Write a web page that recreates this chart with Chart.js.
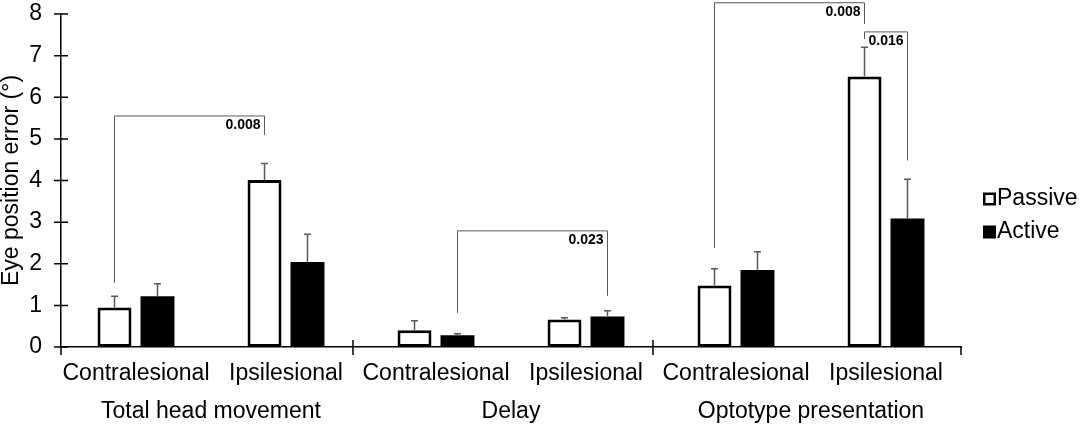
<!DOCTYPE html>
<html>
<head>
<meta charset="utf-8">
<script src="https://cdn.jsdelivr.net/npm/chart.js@4"></script>
<style>
  html, body { margin: 0; padding: 0; background: #fff; }
</style>
</head>
<body>
<canvas id="myChart" width="1084" height="429"></canvas>
<script>
// Données
const categories = ['Contralesional', 'Ipsilesional', 'Contralesional', 'Ipsilesional', 'Contralesional', 'Ipsilesional'];
const groups = ['Total head movement', 'Delay', 'Optotype presentation'];
const passive = [0.95, 4.01, 0.40, 0.66, 1.48, 6.50];
const passiveErr = [0.27, 0.40, 0.23, 0.04, 0.40, 0.70];
const active = [1.22, 2.04, 0.28, 0.73, 1.85, 3.09];
const activeErr = [0.30, 0.67, 0.04, 0.14, 0.44, 0.94];
const yTicks = [0, 1, 2, 3, 4, 5, 6, 7, 8];

// Crochets de significativité : [catégorie, dataset] pour chaque branche
const brackets = [
    { label: '0.008', from: [0, 0], to: [1, 0], start: 1.54, top: 5.55, end: 5.10, side: 'right' },
    { label: '0.023', from: [2, 1], to: [3, 1], start: 0.82, top: 2.79, end: 1.23, side: 'right' },
    { label: '0.008', from: [4, 0], to: [5, 0], start: 2.38, top: 8.27, end: 7.76, side: 'right' },
    { label: '0.016', from: [5, 0], to: [5, 1], start: 7.40, top: 7.57, end: 4.48, side: 'left' },
];

const FONT = '"Liberation Sans", Arial, sans-serif';
const errors = [passiveErr, activeErr];

const extras = {
    id: 'extras',
    afterDraw(chart) {
        const ctx = chart.ctx;
        const xs = chart.scales.x;
        const ys = chart.scales.y;
        ctx.save();

        // graduations de l'axe Y (traversantes)
        ctx.strokeStyle = '#000';
        ctx.lineWidth = 1.5;
        ctx.beginPath();
        yTicks.forEach(v => {
            const y = ys.getPixelForValue(v);
            ctx.moveTo(xs.left - 7, y);
            ctx.lineTo(xs.left + 7, y);
        });
        // prolongement de l'axe Y sous l'axe X
        ctx.moveTo(xs.left, ys.bottom);
        ctx.lineTo(xs.left, ys.bottom + 8);
        // séparateurs de groupes (un peu à gauche du milieu, comme dans Excel)
        [1.5, 3.5].forEach(v => {
            const x = xs.getPixelForValue(v) - 8;
            ctx.moveTo(x, ys.bottom - 7);
            ctx.lineTo(x, ys.bottom + 8);
        });
        ctx.moveTo(xs.right, ys.bottom);
        ctx.lineTo(xs.right, ys.bottom + 8);
        ctx.stroke();

        // libellés de groupes
        ctx.fillStyle = '#000';
        ctx.font = '23px ' + FONT;
        ctx.textAlign = 'center';
        ctx.textBaseline = 'middle';
        groups.forEach((g, i) => {
            const x = (xs.getPixelForValue(2 * i) + xs.getPixelForValue(2 * i + 1)) / 2;
            ctx.fillText(g, x, 412);
        });

        // barres d'erreur
        ctx.strokeStyle = '#595959';
        ctx.lineWidth = 1.5;
        chart.data.datasets.forEach((ds, d) => {
            const meta = chart.getDatasetMeta(d);
            meta.data.forEach((bar, i) => {
                const y0 = ys.getPixelForValue(ds.data[i]);
                const y1 = ys.getPixelForValue(ds.data[i] + errors[d][i]);
                ctx.beginPath();
                ctx.moveTo(bar.x, y0);
                ctx.lineTo(bar.x, y1);
                ctx.moveTo(bar.x - 3.5, y1);
                ctx.lineTo(bar.x + 3.5, y1);
                ctx.stroke();
            });
        });

        // crochets
        ctx.strokeStyle = '#595959';
        ctx.lineWidth = 1;
        ctx.font = 'bold 14px ' + FONT;
        brackets.forEach(b => {
            const xa = chart.getDatasetMeta(b.from[1]).data[b.from[0]].x;
            const xb = chart.getDatasetMeta(b.to[1]).data[b.to[0]].x;
            const ya = ys.getPixelForValue(b.start);
            const yt = ys.getPixelForValue(b.top);
            const yb = ys.getPixelForValue(b.end);
            ctx.beginPath();
            ctx.moveTo(xa, ya);
            ctx.lineTo(xa, yt);
            ctx.lineTo(xb, yt);
            ctx.lineTo(xb, yb);
            ctx.stroke();
            if (b.side === 'right') {
                ctx.textAlign = 'right';
                ctx.fillText(b.label, xb - 4, yt + 9);
            } else {
                ctx.textAlign = 'left';
                ctx.fillText(b.label, xa + 4, yt + 9);
            }
        });

        // légende
        ctx.font = '23px ' + FONT;
        ctx.textAlign = 'left';
        chart.data.datasets.forEach((ds, d) => {
            const cy = 199 + d * 33;
            ctx.fillStyle = ds.backgroundColor;
            ctx.fillRect(983, cy - 6.5, 13, 13);
            if (ds.borderWidth) {
                ctx.strokeStyle = ds.borderColor;
                ctx.lineWidth = 2.5;
                ctx.strokeRect(984.25, cy - 5.25, 10.5, 10.5);
            }
            ctx.fillStyle = '#000';
            ctx.fillText(ds.label, 997, cy);
        });

        ctx.restore();
    }
};

const ctx = document.getElementById('myChart').getContext('2d');
new Chart(ctx, {
    type: 'bar',
    data: {
        labels: categories,
        datasets: [{
            label: 'Passive',
            data: passive,
            backgroundColor: '#ffffff',
            borderColor: '#000000',
            borderWidth: 3,
            borderSkipped: false,
        }, {
            label: 'Active',
            data: active,
            backgroundColor: '#000000',
            borderColor: '#000000',
            borderWidth: 0,
        }],
    },
    options: {
        responsive: false,
        animation: false,
        categoryPercentage: 0.573,
        barPercentage: 0.79,
        layout: { padding: { top: 14, right: 123, left: 0, bottom: 0 } },
        plugins: {
            legend: { display: false },
            tooltip: { enabled: false },
        },
        scales: {
            x: {
                grid: { display: false, drawTicks: false },
                border: { display: true, color: '#000', width: 1.5 },
                ticks: { color: '#000', font: { size: 23, family: FONT }, padding: 13, maxRotation: 0, autoSkip: false },
                afterFit(scale) { scale.height = 82; },
            },
            y: {
                min: 0,
                max: 8,
                afterBuildTicks(scale) { scale.ticks = yTicks.map(v => ({ value: v })); },
                grid: { display: false, drawTicks: false },
                border: { display: true, color: '#000', width: 1.5 },
                ticks: { color: '#000', font: { size: 23, family: FONT }, padding: 19 },
                title: {
                    display: true,
                    text: 'Eye position error (°)',
                    color: '#000',
                    font: { size: 23, family: FONT, lineHeight: 1 },
                    padding: 0,
                },
                afterFit(scale) {
                    scale.width = 61;
                    scale.paddingTop = 0;
                    scale.paddingBottom = 0;
                },
            },
        },
    },
    plugins: [extras],
});
</script>
</body>
</html>
